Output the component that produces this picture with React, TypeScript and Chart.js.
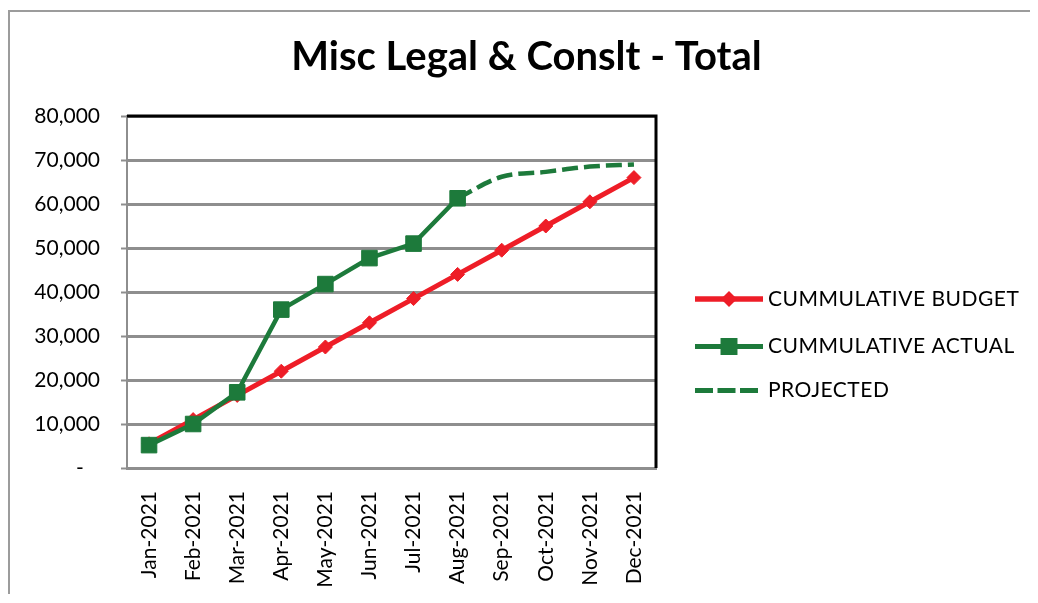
import React, { useEffect, useRef } from 'react';
import { Chart, registerables } from 'chart.js';

Chart.register(...registerables);

const TITLE = 'Misc Legal & Conslt - Total';
const months = [
  'Jan-2021', 'Feb-2021', 'Mar-2021', 'Apr-2021', 'May-2021', 'Jun-2021',
  'Jul-2021', 'Aug-2021', 'Sep-2021', 'Oct-2021', 'Nov-2021', 'Dec-2021',
];
const seriesNames = ['CUMMULATIVE BUDGET', 'CUMMULATIVE ACTUAL', 'PROJECTED'];
const budget = [5500, 11000, 16500, 22000, 27500, 33000, 38500, 44000, 49500, 55000, 60500, 66000];
const actual = [5200, 10000, 17200, 36000, 41800, 47700, 51000, 61300, null, null, null, null];
const projected = [null, null, null, null, null, null, null, 61300, 66200, 67300, 68500, 69000];
const yMin = 0;
const yMax = 80000;
const yStep = 10000;

const RED = '#ee1d27';
const GREEN = '#1d7a3b';
const GRID = '#8e8e8e';
const FONT = 'Lato';

const framePlugin = {
  id: 'blackFrame',
  afterDatasetsDraw(chart: any) {
    const { ctx } = chart;
    const { left, right, top, bottom } = chart.chartArea;
    ctx.save();
    ctx.strokeStyle = '#000';
    ctx.lineWidth = 3;
    ctx.beginPath();
    ctx.moveTo(left, top);
    ctx.lineTo(right, top);
    ctx.lineTo(right, bottom);
    ctx.stroke();
    ctx.restore();
  },
};

function drawMarker(ctx: CanvasRenderingContext2D, style: string, x: number, y: number, r: number) {
  ctx.beginPath();
  if (style === 'rectRot') {
    ctx.moveTo(x - r, y);
    ctx.lineTo(x, y - r);
    ctx.lineTo(x + r, y);
    ctx.lineTo(x, y + r);
    ctx.closePath();
  } else if (style === 'rect') {
    const s = r * Math.SQRT1_2;
    ctx.rect(x - s, y - s, 2 * s, 2 * s);
  }
  ctx.fill();
}

const legendPlugin = {
  id: 'sideLegend',
  afterDraw(chart: any) {
    const { ctx } = chart;
    const x0 = chart.chartArea.right + 39;
    const lineLen = 68;
    const rows = [287, 334.5, 378.5];
    chart.data.datasets.forEach((ds: any, i: number) => {
      const y = rows[i];
      const dashed = ds.borderDash && ds.borderDash.length;
      ctx.save();
      ctx.strokeStyle = ds.borderColor;
      ctx.lineWidth = ds.borderWidth + 0.5;
      ctx.lineCap = 'butt';
      if (dashed) ctx.setLineDash([18, 4.5]);
      ctx.beginPath();
      ctx.moveTo(x0, y);
      ctx.lineTo(x0 + (dashed ? 63 : lineLen), y);
      ctx.stroke();
      ctx.setLineDash([]);
      if (ds.pointRadius > 0) {
        ctx.fillStyle = ds.pointBackgroundColor;
        drawMarker(ctx, ds.pointStyle, x0 + 34, y, ds.pointRadius + 1);
      }
      ctx.fillStyle = '#000';
      ctx.font = `21px ${FONT}`;
      (ctx as any).letterSpacing = '0.5px';
      ctx.textAlign = 'left';
      ctx.textBaseline = 'middle';
      ctx.fillText(ds.label, x0 + 73, y);
      ctx.restore();
    });
  },
};

export default function App() {
  const canvasRef = useRef<HTMLCanvasElement | null>(null);

  useEffect(() => {
    if (!canvasRef.current) return;
    Chart.defaults.font.family = FONT;
    const chart = new Chart(canvasRef.current, {
      type: 'line',
      data: {
        labels: months,
        datasets: [
          {
            label: seriesNames[0],
            data: budget,
            borderColor: RED,
            backgroundColor: RED,
            borderWidth: 5,
            pointStyle: 'rectRot',
            pointRadius: 7,
            pointBackgroundColor: RED,
            pointBorderColor: RED,
            pointBorderWidth: 1,
            order: 2,
          },
          {
            label: seriesNames[1],
            data: actual,
            borderColor: GREEN,
            backgroundColor: GREEN,
            borderWidth: 4.5,
            pointStyle: 'rect',
            pointRadius: 11,
            pointBackgroundColor: GREEN,
            pointBorderColor: GREEN,
            pointBorderWidth: 1,
            order: 0,
          },
          {
            label: seriesNames[2],
            data: projected,
            borderColor: GREEN,
            backgroundColor: GREEN,
            borderWidth: 4.5,
            borderDash: [16, 6],
            pointRadius: 0,
            cubicInterpolationMode: 'monotone',
            order: 1,
          },
        ] as any,
      },
      options: {
        responsive: false,
        animation: false,
        events: [],
        layout: { padding: { left: 13, right: 0, top: 0, bottom: 0 } },
        plugins: {
          legend: { display: false },
          tooltip: { enabled: false },
          title: {
            display: true,
            text: TITLE,
            color: '#000',
            font: { family: FONT, size: 40, weight: 'bold', lineHeight: 1.2 },
            padding: { top: 21.5, bottom: 34.5 },
          },
        },
        scales: {
          x: {
            type: 'category',
            offset: true,
            grid: { display: false },
            border: { display: true, color: GRID, width: 3 },
            ticks: {
              autoSkip: false,
              minRotation: 90,
              maxRotation: 90,
              padding: 15,
              color: '#000',
              font: { family: FONT, size: 21 },
            },
            afterFit(scale: any) {
              scale.height = 126;
            },
          },
          y: {
            min: yMin,
            max: yMax,
            ticks: {
              stepSize: yStep,
              padding: 21,
              color: '#000',
              font: { family: FONT, size: 21 },
              callback: (v: any) => (Number(v) === 0 ? '-   ' : Number(v).toLocaleString('en-US')),
            },
            grid: { color: GRID, lineWidth: 3, tickLength: 6, tickColor: GRID, tickWidth: 2 },
            border: { color: GRID, width: 2 },
            afterFit(scale: any) {
              scale.width = 104;
            },
          },
          yR: {
            position: 'right',
            display: true,
            ticks: { display: false },
            grid: { display: false },
            border: { display: false },
            afterFit(scale: any) {
              scale.width = 374;
            },
          },
        },
      } as any,
      plugins: [framePlugin, legendPlugin],
    });
    return () => chart.destroy();
  }, []);

  return (
    <div
      style={{
        position: 'relative',
        top: 2,
        width: 1022,
        height: 586,
        boxSizing: 'border-box',
        borderTop: '2px solid #9c9c9c',
        borderLeft: '2px solid #9c9c9c',
        borderBottom: '2px solid #9c9c9c',
        background: '#fff',
      }}
    >
      <canvas ref={canvasRef} width={1020} height={582} style={{ display: 'block' }} />
    </div>
  );
}
